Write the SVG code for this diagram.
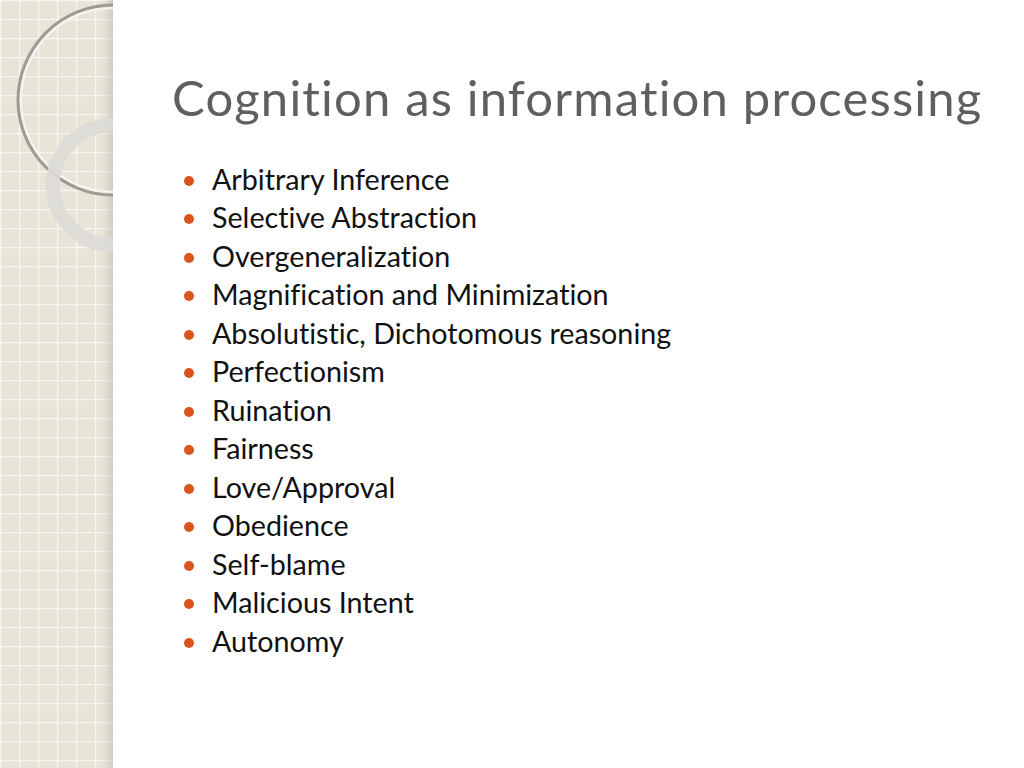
<svg xmlns="http://www.w3.org/2000/svg" width="1024" height="768" viewBox="0 0 1024 768">
<defs>
<pattern id="grid" width="19" height="19" patternUnits="userSpaceOnUse">
<rect width="19" height="19" fill="#e9e4d8"/>
<path d="M0 0.5H19M0.5 0V19" stroke="#f8f6f0" stroke-width="1.5"/>
</pattern>
<linearGradient id="edge" x1="0" x2="1"><stop offset="0" stop-color="#d8d4cc" stop-opacity="0"/><stop offset="1" stop-color="#bdb9b2"/></linearGradient>
</defs>
<style>
text{font-variant-ligatures:none}
.t{font-family:Lato,"Liberation Sans",sans-serif;font-size:28.7px;fill:#111}
.b{fill:#d9541e}
</style>
<rect width="1024" height="768" fill="#fff"/>
<rect width="113" height="768" fill="url(#grid)"/>
<rect x="100" width="13" height="768" fill="url(#edge)" opacity="0.6"/>
<path d="M113 5 A95 95 0 0 0 113 195" fill="none" stroke="#9e9a94" stroke-width="3"/>
<path d="M113 8 A92 92 0 0 0 113 192" fill="none" stroke="#f7f5f0" stroke-width="2"/>
<path d="M113 125 A60 60 0 0 0 113 245" fill="none" stroke="#dcdad6" stroke-width="14" opacity="0.9"/>
<text x="172" y="116" font-family="Lato,'Liberation Sans',sans-serif" font-size="49" letter-spacing="0.8" fill="#5f5f5f" textLength="810" lengthAdjust="spacing">Cognition as information processing</text>
<g>
<circle class="b" cx="189" cy="181" r="5"/><text class="t" x="212" y="190">Arbitrary Inference</text>
<circle class="b" cx="189" cy="219" r="5"/><text class="t" x="212" y="228">Selective Abstraction</text>
<circle class="b" cx="189" cy="258" r="5"/><text class="t" x="212" y="267">Overgeneralization</text>
<circle class="b" cx="189" cy="296" r="5"/><text class="t" x="212" y="305">Magnification and Minimization</text>
<circle class="b" cx="189" cy="335" r="5"/><text class="t" x="212" y="344">Absolutistic, Dichotomous reasoning</text>
<circle class="b" cx="189" cy="373" r="5"/><text class="t" x="212" y="382">Perfectionism</text>
<circle class="b" cx="189" cy="412" r="5"/><text class="t" x="212" y="421">Ruination</text>
<circle class="b" cx="189" cy="450" r="5"/><text class="t" x="212" y="459">Fairness</text>
<circle class="b" cx="189" cy="489" r="5"/><text class="t" x="212" y="498">Love/Approval</text>
<circle class="b" cx="189" cy="527" r="5"/><text class="t" x="212" y="536">Obedience</text>
<circle class="b" cx="189" cy="566" r="5"/><text class="t" x="212" y="575">Self-blame</text>
<circle class="b" cx="189" cy="604" r="5"/><text class="t" x="212" y="613">Malicious Intent</text>
<circle class="b" cx="189" cy="643" r="5"/><text class="t" x="212" y="652">Autonomy</text>
</g>
</svg>
